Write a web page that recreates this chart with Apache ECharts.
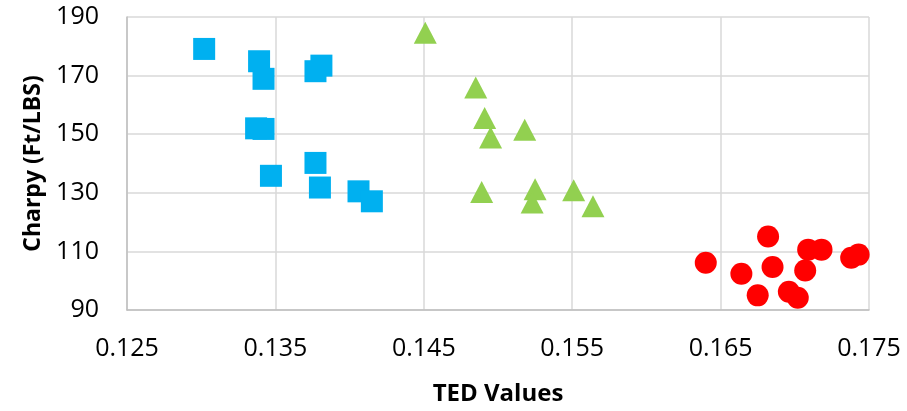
<!DOCTYPE html>
<html>
<head>
<meta charset="utf-8">
<script src="https://cdn.jsdelivr.net/npm/echarts@6/dist/echarts.min.js"></script>
<style>
  html, body { margin: 0; padding: 0; background: #fff; }
  #chart { width: 907px; height: 411px; }
</style>
</head>
<body>
<div id="chart"></div>
<script>
// TED value / Charpy pairs
const blueTed = [0.1302, 0.1339, 0.1342, 0.1377, 0.1381, 0.1337, 0.1342, 0.1377, 0.1347, 0.1380, 0.1406, 0.1415];
const blueCharpy = [179.1, 174.9, 168.9, 171.5, 173.4, 152.0, 151.8, 140.2, 135.8, 131.8, 130.5, 127.1];

const greenTed = [0.1451, 0.1485, 0.1491, 0.1495, 0.1518, 0.1489, 0.1525, 0.1523, 0.1551, 0.1564];
const greenCharpy = [184.6, 165.9, 155.5, 148.9, 151.5, 130.3, 131.2, 126.7, 130.9, 125.4];

const redTed = [0.1640, 0.1682, 0.1664, 0.1685, 0.1675, 0.1709, 0.1718, 0.1707, 0.1696, 0.1702, 0.1738, 0.1743];
const redCharpy = [106.1, 115.1, 102.4, 104.7, 95.0, 110.6, 110.6, 103.5, 96.2, 94.2, 107.8, 108.9];

const xTicks = { min: 0.125, max: 0.175, step: 0.01 };
const yTicks = { min: 90, max: 190, step: 20 };

const pairs = (xs, ys) => xs.map((x, i) => [x, ys[i]]);

const gridColor = '#d9d9d9';
const font = '"Open Sans", sans-serif';

const chart = echarts.init(document.getElementById('chart'));
chart.setOption({
  animation: false,
  grid: { left: 127, right: 38, top: 17, bottom: 99 },
  xAxis: {
    type: 'value',
    min: xTicks.min,
    max: xTicks.max,
    interval: xTicks.step,
    name: 'TED Values',
    nameLocation: 'middle',
    nameGap: 72,
    nameTextStyle: { fontFamily: font, fontWeight: 'bold', fontSize: 24, color: '#000' },
    axisLine: { lineStyle: { color: '#bfbfbf', width: 1.5 } },
    axisTick: { show: false },
    axisLabel: {
      margin: 26,
      fontFamily: font,
      fontSize: 25,
      color: '#000',
      formatter: (v) => v.toFixed(3),
    },
    splitLine: { show: true, lineStyle: { color: gridColor, width: 1.5 } },
  },
  yAxis: {
    type: 'value',
    min: yTicks.min,
    max: yTicks.max,
    interval: yTicks.step,
    name: 'Charpy (Ft/LBS)',
    nameLocation: 'middle',
    nameGap: 81,
    nameTextStyle: { fontFamily: font, fontWeight: 'bold', fontSize: 23, color: '#000' },
    axisLine: { show: true, lineStyle: { color: '#bfbfbf', width: 1.5 } },
    axisTick: { show: false },
    axisLabel: { margin: 28, fontFamily: font, fontSize: 25, color: '#000' },
    splitLine: { show: true, lineStyle: { color: gridColor, width: 1.5 } },
  },
  series: [
    {
      type: 'scatter',
      symbol: 'rect',
      symbolSize: 22,
      itemStyle: { color: '#00b0f0', opacity: 1 },
      data: pairs(blueTed, blueCharpy),
    },
    {
      type: 'scatter',
      symbol: 'triangle',
      symbolSize: [23, 22],
      itemStyle: { color: '#92d050', opacity: 1 },
      data: pairs(greenTed, greenCharpy),
    },
    {
      type: 'scatter',
      symbol: 'circle',
      symbolSize: 22,
      itemStyle: { color: '#ff0000', opacity: 1 },
      data: pairs(redTed, redCharpy),
    },
  ],
});
</script>
</body>
</html>
